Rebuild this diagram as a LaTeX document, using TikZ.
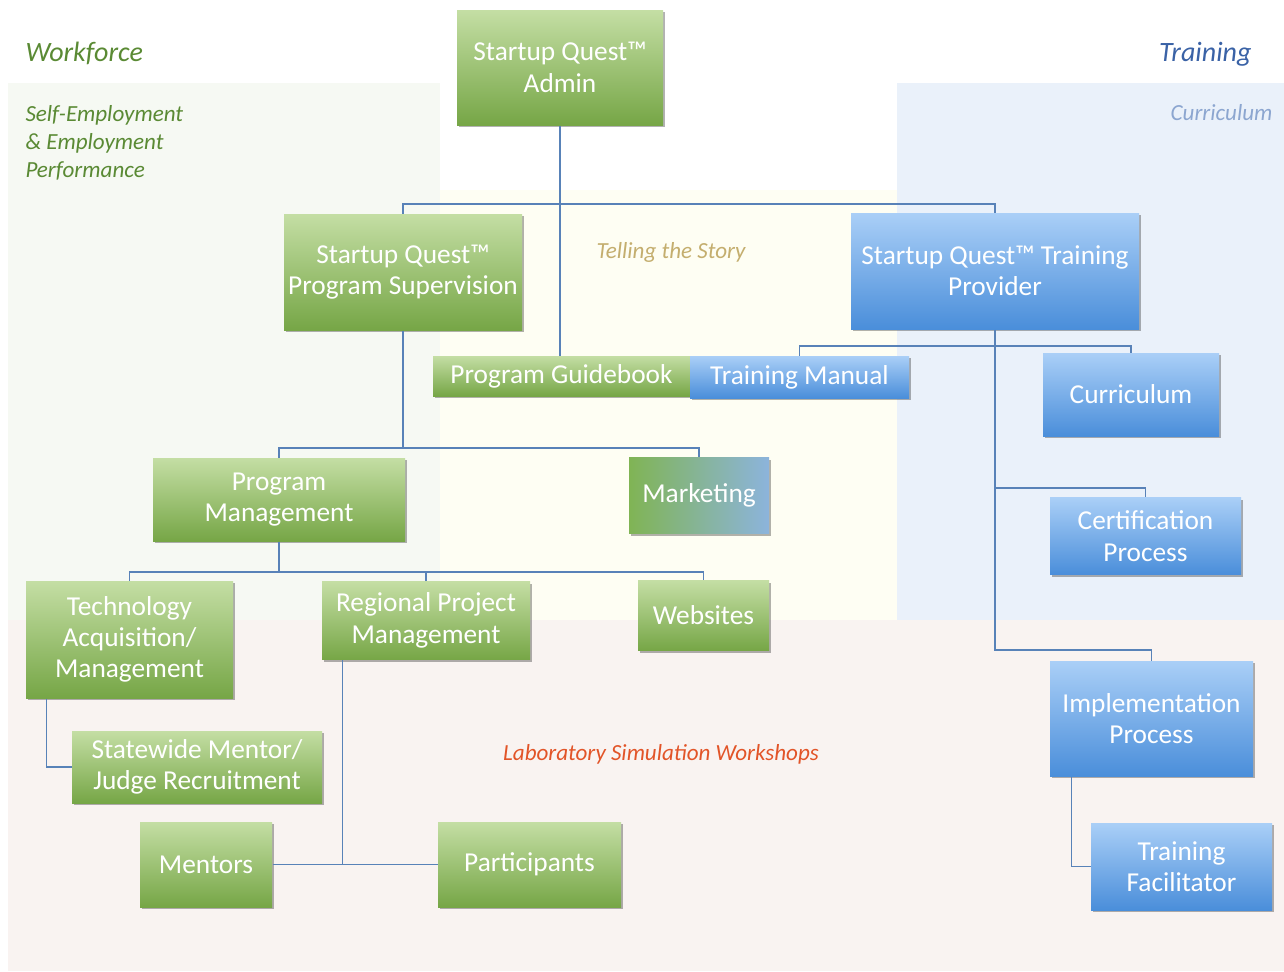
\documentclass[tikz,border=0pt]{standalone}
\usepackage{fontspec}
\setmainfont{Carlito}
\usetikzlibrary{positioning,shadows}

\definecolor{grtop}{RGB}{196,222,164}
\definecolor{grmid}{RGB}{152,194,106}
\definecolor{grbot}{RGB}{118,166,70}
\definecolor{bltop}{RGB}{170,207,247}
\definecolor{blmid}{RGB}{116,172,236}
\definecolor{blbot}{RGB}{74,142,218}
\definecolor{mkleft}{RGB}{128,180,84}
\definecolor{mkright}{RGB}{140,180,220}
\definecolor{linkblue}{RGB}{88,130,184}
\definecolor{wfgreen}{RGB}{90,138,52}
\definecolor{trblue}{RGB}{58,98,166}
\definecolor{curblue}{RGB}{140,166,208}
\definecolor{storytan}{RGB}{196,174,110}
\definecolor{laborange}{RGB}{226,84,40}
\definecolor{bgleft}{RGB}{246,249,243}
\definecolor{bgyellow}{RGB}{254,254,243}
\definecolor{bgblue}{RGB}{234,241,250}
\definecolor{bgpink}{RGB}{249,243,241}

\tikzset{every picture/.style={line width=0.75pt},
	greenbox/.style={draw=none, top color=grtop, middle color=grmid, bottom color=grbot, text=white, align=center, inner sep=2pt, font=\fontsize{20.5}{23.5}\selectfont, drop shadow={shadow xshift=1.2pt, shadow yshift=-1.8pt, opacity=0.3, fill=black}},
	bluebox/.style={greenbox, top color=bltop, middle color=blmid, bottom color=blbot},
	mktbox/.style={greenbox, left color=mkleft, right color=mkright},
	conn/.style={draw=linkblue, line width=1.1pt},
	bigtag/.style={inner sep=0pt, font=\itshape\fontsize{21}{25}\selectfont},
	smalltag/.style={inner sep=0pt, font=\itshape\fontsize{17.3}{20.8}\selectfont}}

\begin{document}
\begin{tikzpicture}[x=0.75pt,y=0.75pt,yscale=-1,xscale=1]
	\path (0,0) rectangle (1284,971); %set diagram size 1284 x 971

	%Shape: Rectangle (background areas)
	\fill [bgpink] (8,620) rectangle (1284,971);
	\fill [bgleft] (8,83) rectangle (440,620);
	\fill [bgyellow] (440,190) rectangle (897,620);
	\fill [bgblue] (897,83) rectangle (1284,620);

	% Text Node
	\node [bigtag, text=wfgreen, anchor=west] (workforce) at (25,53) {Workforce};
	% Text Node
	\node [smalltag, text=wfgreen, anchor=west, align=left] (selfemp) at (25,143) {Self-Employment\\\& Employment\\Performance};
	% Text Node
	\node [bigtag, text=trblue, anchor=east] (training) at (1252,54) {Training};
	% Text Node
	\node [smalltag, text=curblue, anchor=east] (curtag) at (1273,113) {Curriculum};
	% Text Node
	\node [smalltag, text=storytan] (story) at (671,252) {Telling the Story};
	% Text Node
	\node [smalltag, text=laborange] (labsim) at (661,754) {Laboratory Simulation Workshops};

	%Shape: Rectangle (boxes)
	\node [greenbox, minimum width=154.5pt, minimum height=86.25pt] (admin) at (560,67.5) {Startup Quest™\\Admin};
	\node [greenbox, minimum width=178.5pt, minimum height=87pt] (super) at (403,272) {Startup Quest™\\Program Supervision};
	\node [bluebox, minimum width=216pt, minimum height=87pt] (provider) at (995,271) {Startup Quest™ Training\\Provider};
	\node [greenbox, minimum width=192.75pt, minimum height=30pt] (guide) at (561.5,376) {Program Guidebook};
	\node [bluebox, minimum width=164.25pt, minimum height=31.5pt] (manual) at (799.5,377) {Training Manual};
	\node [bluebox, minimum width=132pt, minimum height=62.25pt] (curric) at (1131,394.5) {Curriculum};
	\node [greenbox, minimum width=189pt, minimum height=62.25pt] (progman) at (279,499.5) {Program\\Management};
	\node [mktbox, minimum width=105pt, minimum height=57pt] (market) at (699,495.5) {Marketing};
	\node [bluebox, minimum width=143.25pt, minimum height=57.75pt] (certif) at (1145.5,536) {Certification\\Process};
	\node [greenbox, minimum width=155.25pt, minimum height=87.75pt] (techacq) at (129.5,639.5) {Technology\\Acquisition/\\Management};
	\node [greenbox, minimum width=156pt, minimum height=58.5pt] (regional) at (426,620.5) {Regional Project\\Management};
	\node [greenbox, minimum width=98.25pt, minimum height=52.5pt] (websites) at (703.5,615.5) {Websites};
	\node [bluebox, minimum width=152.25pt, minimum height=86.25pt] (implem) at (1151.5,718.5) {Implementation\\Process};
	\node [greenbox, minimum width=187.5pt, minimum height=54pt] (statewide) at (197,767) {Statewide Mentor/\\Judge Recruitment};
	\node [greenbox, minimum width=99pt, minimum height=63.75pt] (mentors) at (206,864.5) {Mentors};
	\node [greenbox, minimum width=137.25pt, minimum height=63.75pt] (partic) at (529.5,864.5) {Participants};
	\node [bluebox, minimum width=135.75pt, minimum height=65.25pt] (facil) at (1181.5,866.5) {Training\\Facilitator};

	%Straight Lines (connectors)
	\coordinate (busA) at (560,204);
	\coordinate (busB) at (403,448);
	\coordinate (busC) at (995,346);
	\coordinate (busD) at (995,488);
	\coordinate (busE) at (995,650);
	\coordinate (busF) at (279,572);
	\coordinate (techfoot) at ([xshift=15.75pt]techacq.south west);
	\coordinate (regfoot) at ([xshift=15.75pt]regional.south west);
	\coordinate (implfoot) at ([xshift=16.5pt]implem.south west);

	\draw [conn] (admin.south) -- (admin.south |- guide.north);
	\draw [conn] (super.north) |- (busA) -| (provider.north);
	\draw [conn] (super.south) -- (busB);
	\draw [conn] (progman.north) |- (busB) -| (market.north);
	\draw [conn] (provider.south) -- (busE) -| (implem.north);
	\draw [conn] (manual.north) |- (busC) -| (curric.north);
	\draw [conn] (busD) -| (certif.north);
	\draw [conn] (progman.south) -- (busF);
	\draw [conn] (techacq.north) |- (busF) -| (websites.north);
	\draw [conn] (regional.north) -- (regional.north |- busF);
	\draw [conn] (techfoot) |- (statewide.west);
	\draw [conn] (regfoot) -- (regfoot |- partic.west);
	\draw [conn] (mentors.east) -- (partic.west);
	\draw [conn] (implfoot) |- (facil.west);

\end{tikzpicture}
\end{document}
